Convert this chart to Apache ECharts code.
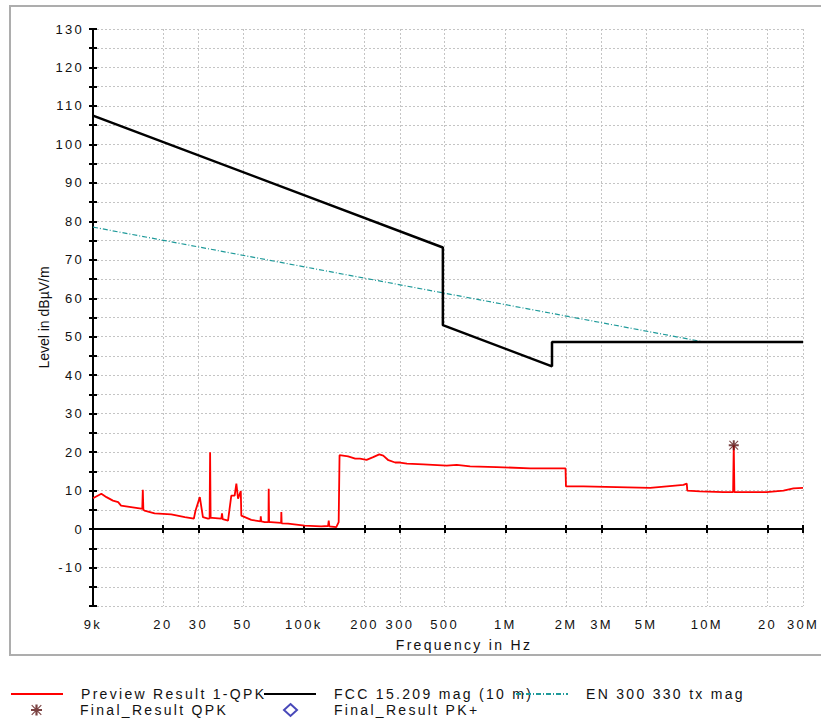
<!DOCTYPE html>
<html>
<head>
<meta charset="utf-8">
<script src="https://cdn.jsdelivr.net/npm/echarts@6/dist/echarts.min.js"></script>
<style>
html, body { margin: 0; padding: 0; background: #fff; }
#chart { width: 821px; height: 723px; }
#chart text { letter-spacing: 2.3px; }
#chart text[style*="Arial"] { letter-spacing: 0; }
</style>
</head>
<body>
<div id="chart"></div>
<script>
// x axis ticks (Hz) and their printed labels
const tickValues = [9000, 20000, 30000, 50000, 100000, 200000, 300000, 500000,
  1000000, 2000000, 3000000, 5000000, 10000000, 20000000, 30000000]
const tickLabels = ['9k', '20', '30', '50', '100k', '200', '300', '500',
  '1M', '2M', '3M', '5M', '10M', '20', '30M']

// Preview Result 1-QPK, [Hz, dBµV/m]
const previewQpk = [
  [9000, 8.0], [9900, 9.2], [10500, 8.3], [11300, 7.4], [12000, 7.0], [12400, 6.1],
  [13900, 5.7], [15600, 5.3], [15800, 5.3], [15900, 10.2], [16000, 5.0], [16200, 4.8],
  [18200, 4.1], [22000, 3.8], [25700, 3.1], [28500, 2.7], [29000, 4.7], [30500, 8.3],
  [31600, 3.1], [33500, 2.7], [34100, 2.8], [34300, 20.0], [34500, 2.9], [35100, 2.9],
  [39000, 2.7], [39300, 4.1], [39600, 2.6], [42100, 2.2], [43700, 8.7], [45400, 8.7],
  [46300, 11.8], [47200, 7.9], [48700, 9.9], [49000, 3.5], [54900, 2.4], [61000, 2.0],
  [61200, 3.3], [61500, 2.0], [64000, 1.8], [66800, 1.8], [67000, 10.5], [67300, 1.8],
  [68600, 1.8], [77200, 1.6], [77400, 4.4], [77700, 1.5], [83600, 1.4], [101000, 0.9],
  [122000, 0.7], [132000, 0.8], [133000, 2.2], [134000, 0.7], [145000, 0.5], [149000, 1.8],
  [150500, 19.2], [166000, 18.9], [180000, 18.3], [190000, 18.3], [205000, 18.0],
  [221000, 18.7], [237000, 19.4], [248000, 19.1], [263000, 17.9], [284000, 17.3],
  [300000, 17.3], [325000, 17.0], [392000, 16.8], [512000, 16.5], [574000, 16.7],
  [669000, 16.3], [907000, 16.1], [1330000, 15.8], [1990000, 15.8], [2000000, 11.1],
  [2440000, 11.1], [3570000, 10.9], [5230000, 10.7], [6330000, 11.1], [7650000, 11.5],
  [7950000, 11.8], [8000000, 10.0], [9250000, 9.8], [12100000, 9.6], [13500000, 9.6],
  [13600000, 21.8], [13700000, 9.6], [19800000, 9.6], [24000000, 10.0], [26900000, 10.6],
  [30000000, 10.7]
]

// FCC 15.209 mag (10 m) limit
const fccLimit = [[9000, 107.5], [490000, 73.2], [490000, 53.0], [1705000, 42.3],
  [1705000, 48.6], [30000000, 48.6]]

// EN 300 330 tx mag limit
const enLimit = [[9000, 78.5], [10000000, 48.5], [30000000, 48.5]]

// final measurements
const finalQpk = [[13600000, 21.8]]
const finalPk = []

const starPath = 'path://M4,0h2v10h-2z M0,4h10v2h-10z M1,0.3L9.7,9L9,9.7L0.3,1z M9,0.3L9.7,1L1,9.7L0.3,9z'
const font = 'Liberation Sans'

const chart = echarts.init(document.getElementById('chart'), null, { renderer: 'svg' })

const legendText = { fontFamily: font, fontSize: 14, color: '#111', padding: [0, 0, 0, 13] }
const lineLegend = {
  orient: 'horizontal',
  padding: 0,
  itemWidth: 52,
  itemHeight: 14,
  itemStyle: { opacity: 0 },
  textStyle: legendText
}

const option = {
  animation: false,
  backgroundColor: '#fff',
  graphic: [{
    type: 'rect',
    shape: { x: 10, y: 6, width: 830, height: 649 },
    style: { fill: 'none', stroke: '#adadad', lineWidth: 2 },
    silent: true
  }],
  grid: { left: 93, right: 18, top: 29, bottom: 117 },
  legend: [
    { ...lineLegend, left: 10, top: 687, data: ['Preview Result 1-QPK'] },
    { ...lineLegend, left: 263, top: 687, data: ['FCC 15.209 mag (10 m)'] },
    { ...lineLegend, left: 515, top: 687, data: ['EN 300 330 tx mag'] },
    {
      padding: 0, left: 31, top: 703, itemWidth: 11, itemHeight: 11,
      textStyle: { ...legendText, padding: [0, 0, 0, 33] },
      data: [{ name: 'Final_Result QPK', icon: starPath }]
    },
    {
      padding: 0, left: 283, top: 703, itemWidth: 13, itemHeight: 12,
      textStyle: { ...legendText, padding: [0, 0, 0, 32] },
      data: [{ name: 'Final_Result PK+', icon: 'emptyDiamond' }]
    }
  ],
  xAxis: [{
    type: 'log',
    logBase: 10,
    min: 9000,
    max: 30000000,
    name: 'Frequency in Hz',
    nameLocation: 'middle',
    nameGap: 32,
    nameTextStyle: { fontFamily: font, fontSize: 14, color: '#111', padding: [0, 0, 0, 32] },
    axisLine: { lineStyle: { color: '#000', width: 2 } },
    axisTick: { customValues: tickValues, length: 4, lineStyle: { color: '#000', width: 2 } },
    axisLabel: {
      customValues: tickValues,
      margin: 12,
      fontFamily: font,
      fontSize: 13,
      color: '#111',
      formatter: (v) => {
        const i = tickValues.findIndex((t) => Math.abs(t - v) / t < 1e-6)
        return i >= 0 ? tickLabels[i] : ''
      }
    },
    splitLine: { show: true, lineStyle: { color: '#c4c4c4', type: [2, 2], width: 1 } },
    minorTick: { show: false }
  }, {
    type: 'log',
    logBase: 10,
    min: 9000,
    max: 30000000,
    position: 'bottom',
    axisLine: { show: false },
    axisTick: { customValues: tickValues, inside: true, length: 4, lineStyle: { color: '#000', width: 2 } },
    axisLabel: { show: false },
    splitLine: { show: false }
  }],
  yAxis: [{
    type: 'value',
    min: -20,
    max: 130,
    interval: 5,
    name: 'Level in dBµV/m',
    nameLocation: 'middle',
    nameGap: 40,
    nameTextStyle: { fontFamily: 'Arial', fontSize: 14, color: '#111' },
    axisLine: { show: true, lineStyle: { color: '#000', width: 2 } },
    axisTick: { show: true, length: 4, lineStyle: { color: '#000', width: 2 } },
    axisLabel: {
      margin: 9,
      fontFamily: font,
      fontSize: 13,
      color: '#111',
      formatter: (v) => (v % 10 === 0 && v > -20 ? String(v) : '')
    },
    splitLine: { show: true, lineStyle: { color: '#c4c4c4', type: [2, 2], width: 1 } }
  }, {
    type: 'value',
    min: -20,
    max: 130,
    interval: 5,
    position: 'left',
    axisLine: { show: false },
    axisTick: { show: true, inside: true, length: 4, lineStyle: { color: '#000', width: 2 } },
    axisLabel: { show: false },
    splitLine: { show: false }
  }],
  series: [
    {
      name: 'EN 300 330 tx mag',
      type: 'line',
      data: enLimit,
      symbol: 'none',
      lineStyle: { color: '#1f9a9a', width: 1.2, type: [5, 2, 1, 2] },
      itemStyle: { color: '#1f9a9a' },
      z: 3
    },
    {
      name: 'FCC 15.209 mag (10 m)',
      type: 'line',
      data: fccLimit,
      symbol: 'none',
      lineStyle: { color: '#000', width: 2.5 },
      itemStyle: { color: '#000' },
      z: 4
    },
    {
      name: 'Preview Result 1-QPK',
      type: 'line',
      data: previewQpk,
      symbol: 'none',
      lineStyle: { color: '#ff0000', width: 1.8 },
      itemStyle: { color: '#ff0000' },
      z: 5
    },
    {
      name: 'Final_Result QPK',
      type: 'scatter',
      data: finalQpk,
      symbol: starPath,
      symbolSize: 10,
      itemStyle: { color: '#5a1414' },
      z: 6
    },
    {
      name: 'Final_Result PK+',
      type: 'scatter',
      data: finalPk,
      symbol: 'emptyDiamond',
      symbolSize: 12,
      itemStyle: { color: '#1a1aa8', borderColor: '#1a1aa8' },
      z: 6
    }
  ]
}

chart.setOption(option)
</script>
</body>
</html>
